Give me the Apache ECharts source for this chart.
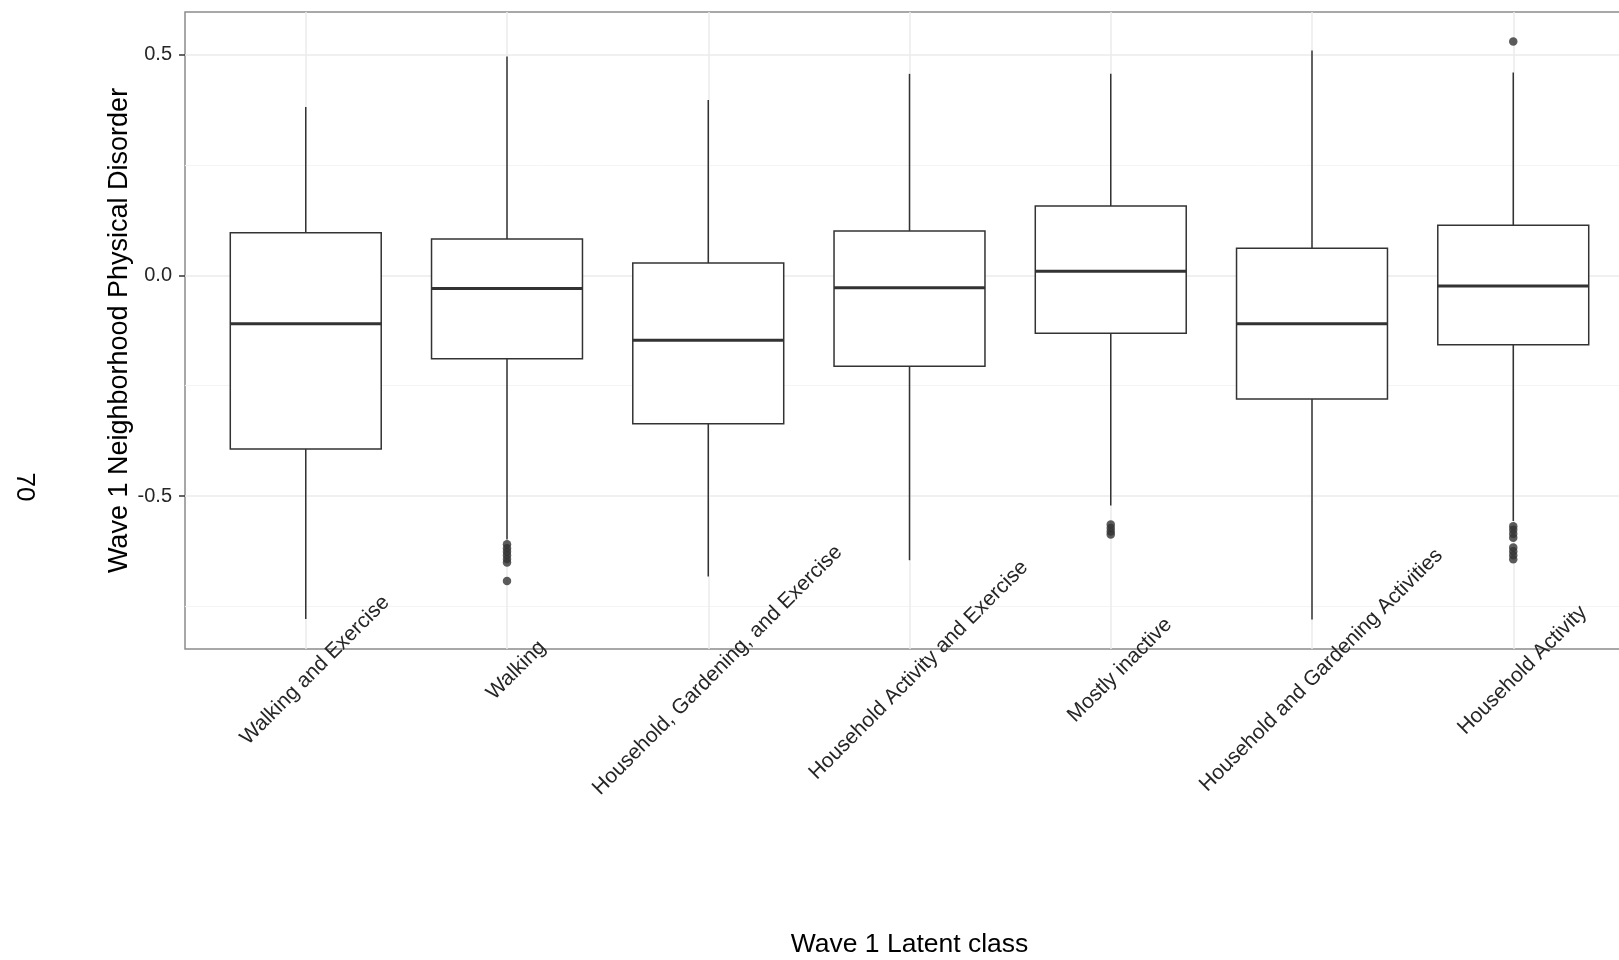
<!DOCTYPE html>
<html>
<head>
<meta charset="utf-8">
<title>Wave 1 Neighborhood Physical Disorder by Latent Class</title>
<script src="https://cdn.jsdelivr.net/npm/echarts@6/dist/echarts.min.js"></script>
<style>
  html, body { margin: 0; padding: 0; background: #ffffff; }
  #chart { width: 1619px; height: 960px; }
</style>
</head>
<body>
<div id="chart"></div>
<script>
// Latent classes, in plotting order
const categories = [
  'Walking and Exercise',
  'Walking',
  'Household, Gardening, and Exercise',
  'Household Activity and Exercise',
  'Mostly inactive',
  'Household and Gardening Activities',
  'Household Activity'
];

// Box statistics per class
const whiskerLow  = [-0.778, -0.598, -0.682, -0.645, -0.521, -0.779, -0.556];
const quartile1   = [-0.393, -0.189, -0.336, -0.206, -0.131, -0.280, -0.157];
const medians     = [-0.110, -0.030, -0.147, -0.028,  0.009, -0.110, -0.024];
const quartile3   = [ 0.096,  0.082,  0.028,  0.100,  0.157,  0.061,  0.113];
const whiskerHigh = [ 0.381,  0.495,  0.397,  0.456,  0.456,  0.509,  0.459];

// Outlying observations: [class index, value]
const outliers = [
  [1, -0.609], [1, -0.618], [1, -0.626], [1, -0.634], [1, -0.642], [1, -0.650], [1, -0.692],
  [4, -0.564], [4, -0.572], [4, -0.580], [4, -0.587],
  [6, 0.529],
  [6, -0.568], [6, -0.576], [6, -0.585], [6, -0.594],
  [6, -0.616], [6, -0.625], [6, -0.634], [6, -0.643]
];

// Axis ticks
const yMajorTicks = [-0.5, 0, 0.5];
const yMinorTicks = [-0.75, -0.25, 0.25];
const xTicks = categories.map((c, i) => i + 1);

const Y_MIN = -0.846, Y_MAX = 0.596;
const X_MIN = 0.4, X_MAX = categories.length + 0.6;
const BOX_WIDTH = 0.75;
const INK = '#333333';
const LABEL_INK = '#262626';
const FONT = '"Liberation Sans", Arial, sans-serif';

const boxRows = categories.map((c, i) => [
  i + 1, whiskerLow[i], quartile1[i], medians[i], quartile3[i], whiskerHigh[i]
]);
const outlierPoints = outliers.map(([i, v]) => [i + 1, v]);

function renderBox(params, api) {
  const x = api.value(0);
  const lo = api.coord([x, api.value(1)]);
  const q1 = api.coord([x, api.value(2)]);
  const md = api.coord([x, api.value(3)]);
  const q3 = api.coord([x, api.value(4)]);
  const hi = api.coord([x, api.value(5)]);
  const half = api.size([BOX_WIDTH, 0])[0] / 2;
  const stroke = { stroke: INK, lineWidth: 1.5, fill: null };
  return {
    type: 'group',
    children: [
      { type: 'line', shape: { x1: lo[0], y1: lo[1], x2: q1[0], y2: q1[1] }, style: stroke },
      { type: 'line', shape: { x1: q3[0], y1: q3[1], x2: hi[0], y2: hi[1] }, style: stroke },
      {
        type: 'rect',
        shape: { x: q3[0] - half, y: q3[1], width: half * 2, height: q1[1] - q3[1] },
        style: { fill: '#ffffff', stroke: INK, lineWidth: 1.5 }
      },
      {
        type: 'line',
        shape: { x1: md[0] - half, y1: md[1], x2: md[0] + half, y2: md[1] },
        style: { stroke: INK, lineWidth: 3 }
      }
    ]
  };
}

const chart = echarts.init(document.getElementById('chart'), null, { renderer: 'canvas' });

chart.setOption({
  backgroundColor: '#ffffff',
  animation: false,
  textStyle: { fontFamily: FONT },
  graphic: [{
    type: 'text',
    x: 24,
    y: 487,
    rotation: -Math.PI / 2,
    style: {
      text: '70',
      fill: '#000000',
      font: '26px ' + FONT,
      align: 'center',
      verticalAlign: 'middle'
    }
  }],
  grid: {
    left: 185,
    top: 12,
    right: -15,
    bottom: 311,
    show: true,
    borderColor: '#8c8c8c',
    borderWidth: 1.5,
    backgroundColor: 'transparent',
    containLabel: false,
    outerBoundsMode: 'none'
  },
  xAxis: {
    type: 'value',
    min: X_MIN,
    max: X_MAX,
    name: 'Wave 1 Latent class',
    nameLocation: 'middle',
    nameGap: 282,
    nameMoveOverlap: false,
    nameTextStyle: { fontSize: 26.5, color: '#000000', fontFamily: FONT },
    axisLine: { show: false },
    axisTick: { show: true, customValues: xTicks, length: 6, lineStyle: { color: INK, width: 1.5 } },
    axisLabel: {
      customValues: xTicks,
      formatter: v => categories[Math.round(v) - 1] || '',
      rotate: 45,
      align: 'center',
      verticalAlign: 'top',
      lineHeight: 26,
      margin: 12,
      fontSize: 21,
      color: LABEL_INK,
      hideOverlap: false
    },
    splitLine: { show: true, lineStyle: { color: '#ebebeb', width: 1.5 } }
  },
  yAxis: [{
    type: 'value',
    min: Y_MIN,
    max: Y_MAX,
    name: 'Wave 1 Neighborhood Physical Disorder',
    nameLocation: 'middle',
    nameGap: 52,
    nameMoveOverlap: false,
    nameTextStyle: { fontSize: 27, color: '#000000', fontFamily: FONT },
    axisLine: { show: false },
    axisTick: { show: true, customValues: yMajorTicks, length: 6, lineStyle: { color: INK, width: 1.5 } },
    axisLabel: {
      customValues: yMajorTicks,
      formatter: v => v.toFixed(1),
      margin: 13,
      fontSize: 20,
      color: LABEL_INK
    },
    splitLine: { show: true, lineStyle: { color: '#ebebeb', width: 1.5 } }
  }, {
    type: 'value',
    min: Y_MIN,
    max: Y_MAX,
    position: 'left',
    axisLine: { show: false },
    axisTick: { show: false, customValues: yMinorTicks },
    axisLabel: { show: false, customValues: yMinorTicks },
    splitLine: { show: true, lineStyle: { color: '#f4f4f4', width: 1 } }
  }],
  series: [{
    type: 'custom',
    name: 'box',
    renderItem: renderBox,
    data: boxRows,
    encode: { x: 0, y: [1, 2, 3, 4, 5] },
    z: 3
  }, {
    type: 'scatter',
    name: 'outliers',
    data: outlierPoints,
    symbol: 'circle',
    symbolSize: 8.5,
    itemStyle: { color: INK },
    z: 4
  }]
});
</script>
</body>
</html>
